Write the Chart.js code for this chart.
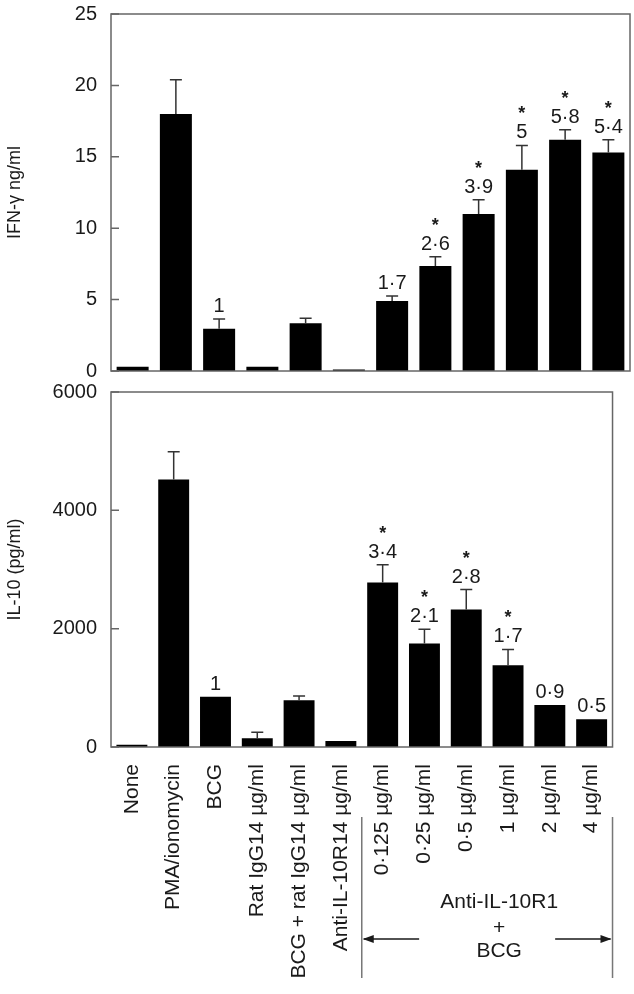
<!DOCTYPE html>
<html>
<head>
<meta charset="utf-8">
<script src="https://cdn.jsdelivr.net/npm/chart.js@4/dist/chart.umd.min.js"></script>
<style>
    body { margin: 0; background: #fff; overflow: hidden; }
    .panel { position: absolute; left: 0; display: block; }
    #ifnChart { top: -12px; }
    #il10Chart { top: 366px; }
</style>
</head>
<body>
<canvas id="ifnChart" class="panel" width="634" height="409"></canvas>
<canvas id="il10Chart" class="panel" width="634" height="628"></canvas>
<script>
const categories = ['None', 'PMA/ionomycin', 'BCG', 'Rat IgG14 µg/ml', 'BCG + rat IgG14 µg/ml',
    'Anti-IL-10R14 µg/ml', '0·125 µg/ml', '0·25 µg/ml', '0·5 µg/ml', '1 µg/ml', '2 µg/ml', '4 µg/ml'];

// IFN-gamma, ng/ml
const ifnValues = [0.3, 18.0, 2.95, 0.3, 3.35, 0.1, 4.9, 7.35, 11.0, 14.1, 16.2, 15.3];
const ifnErrTop = [null, 20.4, 3.65, null, 3.7, null, 5.25, 8.0, 12.0, 15.8, 16.9, 16.2];
const ifnRatio = ['', '', '1', '', '', '', '1·7', '2·6', '3·9', '5', '5·8', '5·4'];
const ifnStar = [0, 0, 0, 0, 0, 0, 0, 1, 1, 1, 1, 1];

// IL-10, pg/ml
const il10Values = [40, 4520, 850, 150, 790, 100, 2780, 1750, 2325, 1380, 710, 470];
const il10ErrTop = [null, 4990, null, 250, 860, null, 3080, 1990, 2660, 1650, null, null];
const il10Ratio = ['', '', '1', '', '', '', '3·4', '2·1', '2·8', '1·7', '0·9', '0·5'];
const il10Star = [0, 0, 0, 0, 0, 0, 1, 1, 1, 1, 0, 0];

const FONT = "'Liberation Sans', Arial, sans-serif";
const INK = '#1a1a1a';

document.addEventListener('DOMContentLoaded', () => {

    // frame, inward y ticks, error bars and ratio labels
    function decorPlugin(errTop, ratio, star) {
        return {
            id: 'decor',
            afterDatasetsDraw(chart) {
                const { ctx, chartArea: a, scales: { y } } = chart;
                ctx.save();
                ctx.strokeStyle = '#666';
                ctx.lineWidth = 1.5;
                ctx.strokeRect(a.left, a.top, a.right - a.left, a.bottom - a.top);

                ctx.beginPath();
                y.ticks.forEach(t => {
                    const py = y.getPixelForValue(t.value);
                    ctx.moveTo(a.left, py);
                    ctx.lineTo(a.left + 8, py);
                });
                ctx.stroke();

                const meta = chart.getDatasetMeta(0);
                ctx.strokeStyle = '#333';
                ctx.fillStyle = INK;
                ctx.textAlign = 'center';
                ctx.textBaseline = 'alphabetic';
                meta.data.forEach((bar, i) => {
                    const cx = bar.x;
                    let topY = bar.y;
                    if (errTop[i] != null) {
                        const ey = y.getPixelForValue(errTop[i]);
                        ctx.beginPath();
                        ctx.moveTo(cx, bar.y);
                        ctx.lineTo(cx, ey);
                        ctx.moveTo(cx - 6, ey);
                        ctx.lineTo(cx + 6, ey);
                        ctx.stroke();
                        topY = ey;
                    }
                    if (ratio[i]) {
                        ctx.font = '20px ' + FONT;
                        ctx.fillText(ratio[i], cx, topY - 7);
                    }
                    if (star[i]) {
                        ctx.font = 'bold 18px ' + FONT;
                        ctx.fillText('*', cx, topY - 26);
                    }
                });
                ctx.restore();
            }
        };
    }

    function yScale(max, step, title) {
        return {
            min: 0,
            max: max,
            afterFit: s => { s.width = 111; },
            grid: { display: false, drawTicks: false },
            border: { display: false },
            ticks: { stepSize: step, padding: 14, color: INK, font: { family: FONT, size: 20 },
                callback: v => String(v) },
            title: { display: true, text: title, color: INK, padding: { top: 4, bottom: 0 },
                font: { family: FONT, size: 18 } }
        };
    }

    // 1. IFN-gamma (top panel)
    new Chart(document.getElementById('ifnChart'), {
        type: 'bar',
        data: {
            labels: categories,
            datasets: [{ data: ifnValues, backgroundColor: '#000', barPercentage: 0.74, categoryPercentage: 1 }]
        },
        options: {
            responsive: false,
            animation: false,
            layout: { padding: { top: 0, bottom: 0, right: 4 } },
            plugins: { legend: { display: false }, tooltip: { enabled: false } },
            scales: {
                x: { display: false },
                y: yScale(25, 5, 'IFN-γ ng/ml')
            }
        },
        plugins: [decorPlugin(ifnErrTop, ifnRatio, ifnStar)]
    });

    // 2. IL-10 (bottom panel) with the Anti-IL-10R1 + BCG bracket
    const bracket = {
        id: 'bracket',
        afterDraw(chart) {
            const { ctx, chartArea: a, scales: { x } } = chart;
            const left = x.getPixelForValue(5.5);
            const right = a.right;
            const mid = (left + right) / 2;
            const b = a.bottom;
            ctx.save();
            ctx.strokeStyle = '#777';
            ctx.lineWidth = 1.5;
            ctx.beginPath();
            ctx.moveTo(left, b + 70); ctx.lineTo(left, b + 231);
            ctx.moveTo(right, b + 70); ctx.lineTo(right, b + 231);
            ctx.stroke();

            ctx.strokeStyle = INK;
            ctx.fillStyle = INK;
            ctx.lineWidth = 1.3;
            const ay = b + 192;
            ctx.beginPath();
            ctx.moveTo(left + 2, ay); ctx.lineTo(mid - 68, ay);
            ctx.moveTo(mid + 68, ay); ctx.lineTo(right - 2, ay);
            ctx.stroke();
            [[left + 1, 1], [right - 1, -1]].forEach(([px, d]) => {
                ctx.beginPath();
                ctx.moveTo(px, ay);
                ctx.lineTo(px + d * 11, ay - 4);
                ctx.lineTo(px + d * 11, ay + 4);
                ctx.closePath();
                ctx.fill();
            });

            ctx.font = '21px ' + FONT;
            ctx.textAlign = 'center';
            ctx.textBaseline = 'middle';
            ctx.fillText('Anti-IL-10R1', mid + 12, b + 155);
            ctx.fillText('+', mid + 12, b + 181);
            ctx.fillText('BCG', mid + 12, b + 204);
            ctx.restore();
        }
    };

    new Chart(document.getElementById('il10Chart'), {
        type: 'bar',
        data: {
            labels: categories,
            datasets: [{ data: il10Values, backgroundColor: '#000', barPercentage: 0.74, categoryPercentage: 1 }]
        },
        options: {
            responsive: false,
            animation: false,
            layout: { padding: { top: 0, bottom: 0, right: 4 } },
            plugins: { legend: { display: false }, tooltip: { enabled: false } },
            scales: {
                x: {
                    afterFit: s => { s.height = 247; },
                    grid: { display: false, drawTicks: false },
                    border: { display: false },
                    ticks: { autoSkip: false, minRotation: 90, maxRotation: 90, padding: 17,
                        color: INK, font: { family: FONT, size: 21 } }
                },
                y: yScale(6000, 2000, 'IL-10 (pg/ml)')
            }
        },
        plugins: [decorPlugin(il10ErrTop, il10Ratio, il10Star), bracket]
    });

});
</script>
</body>
</html>
